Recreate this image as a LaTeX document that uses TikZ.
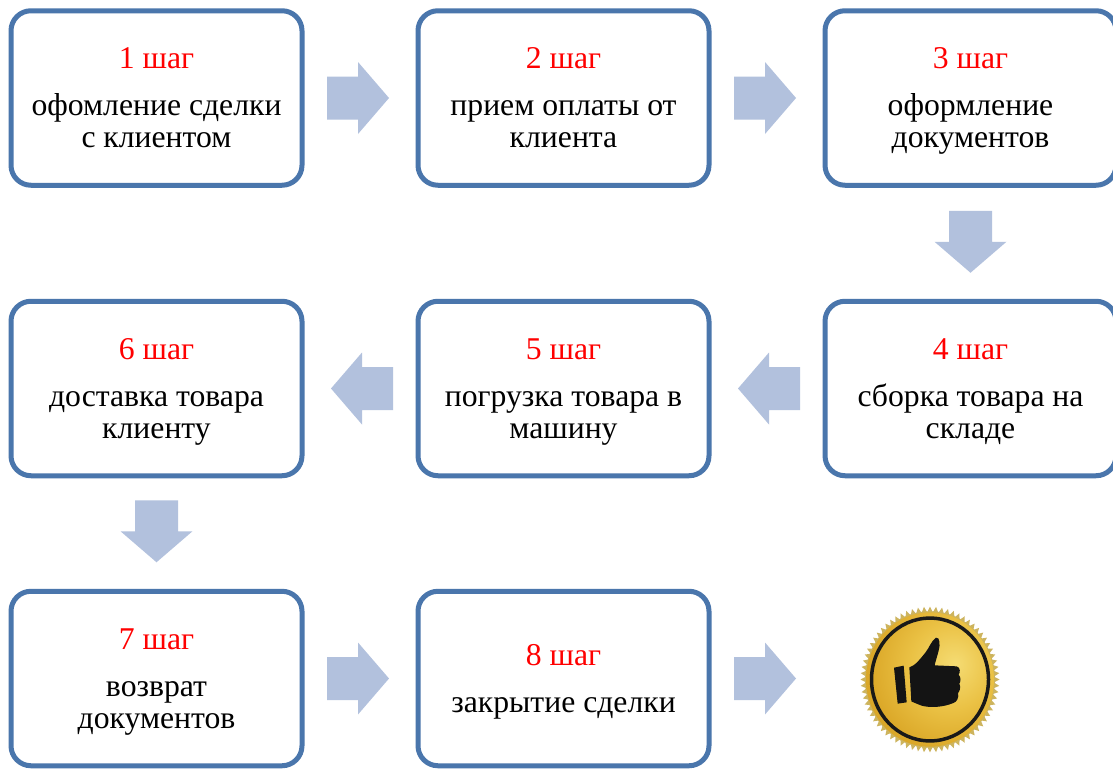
\documentclass[tikz,border=0pt]{standalone}
\usepackage{fontspec}
\setmainfont{Liberation Serif}
\usetikzlibrary{calc}
\definecolor{boxline}{HTML}{4A76AC}
\definecolor{arrowfill}{HTML}{B2C1DD}
\definecolor{stepred}{HTML}{FF0000}
\definecolor{goldteeth}{HTML}{CDB45E}
\pgfdeclareradialshading{goldface}{\pgfpoint{10bp}{6bp}}{
  rgb(0bp)=(.96,.86,.45);
  rgb(16bp)=(.92,.76,.27);
  rgb(30bp)=(.86,.66,.16);
  rgb(44bp)=(.82,.62,.14);
  rgb(58bp)=(.80,.66,.26);
  rgb(100bp)=(.80,.66,.26)}
\tikzset{
  stepbox/.style={draw=boxline,line width=5pt,rounded corners=20pt,minimum width=291pt,minimum height=174.5pt,
    inner sep=0pt,outer sep=0pt,align=center,font=\fontsize{31.7}{32}\selectfont},
  pics/blockarrow/.style={code={
    \fill[arrowfill] (-31,-21.5) -- (0,-21.5) -- (0,-36) -- (31,0) -- (0,36) -- (0,21.5) -- (-31,21.5) -- cycle;
  }},
}
\newcommand{\steptext}[2]{\rule{0pt}{28pt}\textcolor{stepred}{#1 шаг}\\[15pt]#2\rule[-8pt]{0pt}{8pt}}
\begin{document}
\begin{tikzpicture}[x=1pt,y=-1pt]
\useasboundingbox (0,0) rectangle (1113,769);
\clip (0,0) rectangle (1113,769);
\fill[white] (0,0) rectangle (1113,769);
% step boxes
\node[stepbox] (s1) at (156.5,98)  {\steptext{1}{офомление сделки\\с клиентом}};
\node[stepbox] (s2) at (563.5,98)  {\steptext{2}{прием оплаты от\\клиента}};
\node[stepbox] (s3) at (970.5,98)  {\steptext{3}{оформление\\документов}};
\node[stepbox] (s4) at (970.5,388.5) {\steptext{4}{сборка товара на\\складе}};
\node[stepbox] (s5) at (563.5,388.5) {\steptext{5}{погрузка товара в\\машину}};
\node[stepbox] (s6) at (156.5,388.5) {\steptext{6}{доставка товара\\клиенту}};
\node[stepbox] (s7) at (156.5,678.5) {\steptext{7}{возврат\\документов}};
\node[stepbox] (s8) at (563.5,678.5) {\steptext{8}{закрытие сделки}};
% block arrows
\pic (a12) at ($(s1.east)+(56,0)$) {blockarrow};
\pic (a23) at ($(s2.east)+(56,0)$) {blockarrow};
\pic[rotate=-90] (a34) at ($(s3.south)+(0,56.5)$) {blockarrow};
\pic[rotate=180] (a45) at ($(s5.east)+(60,0)$) {blockarrow};
\pic[rotate=180] (a56) at ($(s6.east)+(60,0)$) {blockarrow};
\pic[rotate=-90] (a67) at ($(s6.south)+(0,55.5)$) {blockarrow};
\pic (a78) at ($(s7.east)+(56,0)$) {blockarrow};
\pic (a89) at ($(s8.east)+(56,0)$) {blockarrow};
% medal
\begin{scope}[shift={(930,679.5)},yscale=1.05]
  \foreach \a in {0,5,...,355}
    \fill[goldteeth] (\a-2.5:64) -- (\a:69.5) -- (\a+2.5:64) -- cycle;
  \fill[goldteeth] (0,0) circle (65);
  \shade[shading=goldface] (0,0) circle (64);
  \draw[black!90,line width=3.5pt] (0,0) circle (58.5);
\end{scope}
% thumb (traced in a 3x frame)
\begin{scope}[shift={(840,590)},x=0.3333pt,y=-0.3333pt]
  \fill[black!92] (162,233) -- (191,227) -- (200,337) -- (173,341) -- cycle;
  \fill[black!92] (208,232) .. controls (225,228) and (242,205) .. (256,188)
    .. controls (268,173) and (274,152) .. (288,143)
    .. controls (300,140) and (301,165) .. (296,182)
    .. controls (292,198) and (287,212) .. (284,226)
    -- (350,229) .. controls (362,232) and (361,248) .. (356,254)
    .. controls (364,262) and (362,276) .. (358,281)
    .. controls (364,292) and (358,306) .. (354,309)
    .. controls (358,322) and (350,337) .. (340,339)
    .. controls (310,352) and (270,354) .. (245,347)
    .. controls (232,342) and (222,338) .. (214,334) -- cycle;
\end{scope}
\end{tikzpicture}
\end{document}
